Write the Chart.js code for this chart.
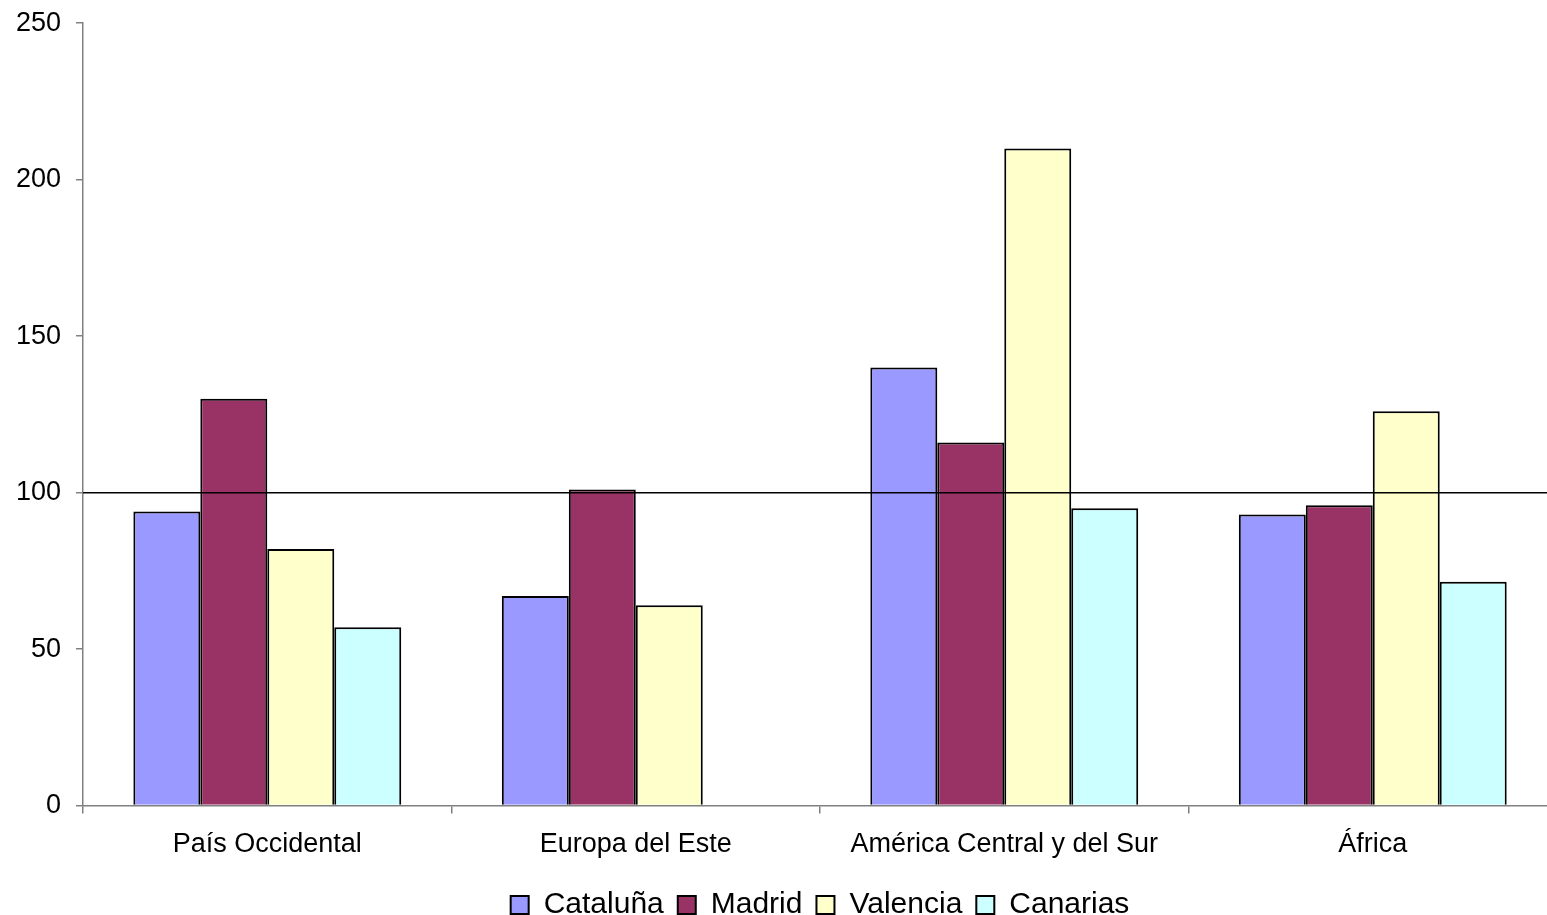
<!DOCTYPE html>
<html>
<head>
<meta charset="utf-8">
<script src="https://cdn.jsdelivr.net/npm/chart.js@4"></script>
<style>
  html, body { margin: 0; padding: 0; background: #fff; overflow: hidden; }
  #wrap { width: 1557px; height: 923px; margin-top: -8px; }
</style>
</head>
<body>
<div id="wrap"><canvas id="chart"></canvas></div>
<script>
const categories = ['País Occidental', 'Europa del Este', 'América Central y del Sur', 'África'];
const cataluna = [94, 67, 140, 93];
const madrid = [130, 101, 116, 96];
const valencia = [82, 64, 210, 126];
const canarias = [57, null, 95, 71.5];
const yTicks = [0, 50, 100, 150, 200, 250];
const refLine = 100;

const refLinePlugin = {
    id: 'refLine',
    afterDatasetsDraw(c) {
        const y = c.scales.y.getPixelForValue(refLine);
        const ctx = c.ctx;
        ctx.save();
        ctx.strokeStyle = '#000';
        ctx.lineWidth = 1.5;
        ctx.beginPath();
        ctx.moveTo(c.chartArea.left, y);
        ctx.lineTo(c.chartArea.right, y);
        ctx.stroke();
        ctx.restore();
    }
};

const font = "'Liberation Sans', Arial, sans-serif";

new Chart(document.querySelector('#chart'), {
    type: 'bar',
    data: {
        labels: categories,
        datasets: [
            { label: 'Cataluña', data: cataluna, backgroundColor: '#9999FF' },
            { label: 'Madrid', data: madrid, backgroundColor: '#993366' },
            { label: 'Valencia', data: valencia, backgroundColor: '#FFFFCC' },
            { label: 'Canarias', data: canarias, backgroundColor: '#CCFFFF' }
        ].map(d => Object.assign(d, { borderColor: '#000', borderWidth: 2 }))
    },
    options: {
        responsive: true,
        maintainAspectRatio: false,
        animation: false,
        categoryPercentage: 0.727,
        barPercentage: 1,
        layout: { padding: { left: 1, top: 0, right: 0, bottom: -15 } },
        scales: {
            x: {
                grid: { drawOnChartArea: false, tickLength: 8, color: '#808080', lineWidth: 1.5 },
                border: { color: '#808080', width: 1.5 },
                ticks: { color: '#000', font: { family: font, size: 27 }, padding: 15 }
            },
            y: {
                min: 0,
                max: 250,
                afterBuildTicks: s => { s.ticks = yTicks.map(v => ({ value: v })); },
                grid: { drawOnChartArea: false, tickLength: 7, color: '#808080', lineWidth: 1.5 },
                border: { color: '#808080', width: 1.5 },
                ticks: { color: '#000', font: { family: font, size: 27 }, padding: 15 }
            }
        },
        plugins: {
            legend: {
                position: 'bottom',
                fullSize: false,
                labels: {
                    color: '#000',
                    font: { family: font, size: 30 },
                    boxWidth: 18,
                    boxHeight: 18,
                    padding: 14
                }
            },
            tooltip: { enabled: false }
        }
    },
    plugins: [refLinePlugin]
});
</script>
</body>
</html>
